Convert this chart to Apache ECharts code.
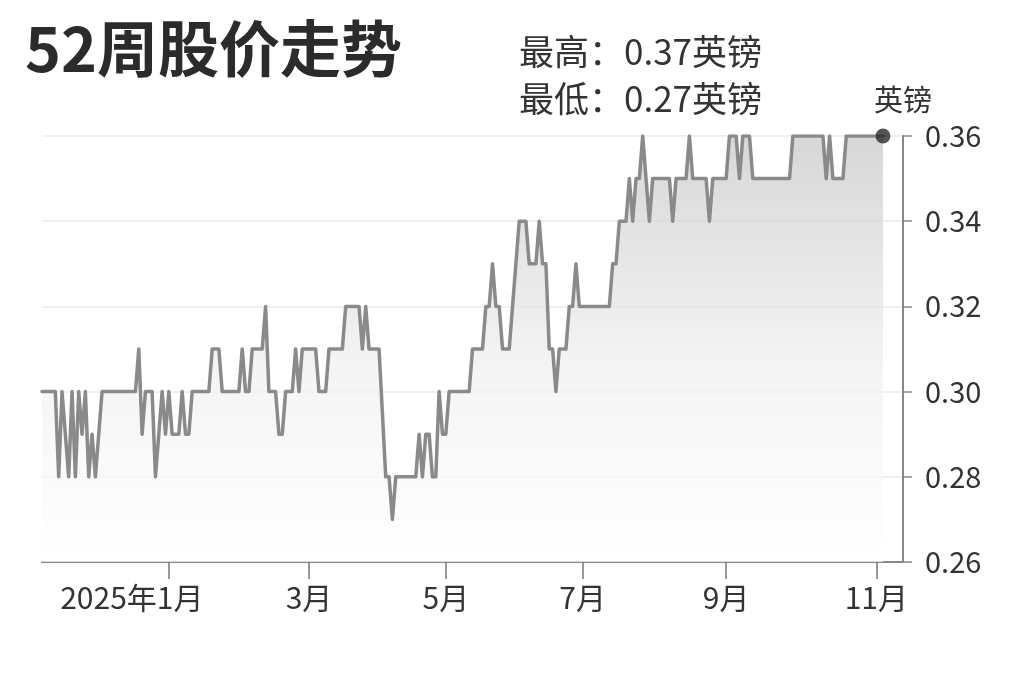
<!DOCTYPE html>
<html>
<head>
<meta charset="utf-8">
<title>52周股价走势</title>
<script src="https://cdn.jsdelivr.net/npm/echarts@6/dist/echarts.min.js"></script>
<style>
    html, body { margin: 0; padding: 0; background: #fff; }
    #chart { width: 1023px; height: 682px; }
</style>
</head>
<body>
<div id="chart"></div>
<script>
    // 每个交易日收盘价 (英镑), 2024-11-06 起
    var prices = [
        0.30, 0.30, 0.30, 0.30, 0.30, 0.28, 0.30, 0.29, 0.28, 0.30,
        0.28, 0.30, 0.29, 0.30, 0.28, 0.29, 0.28, 0.29, 0.30, 0.30,
        0.30, 0.30, 0.30, 0.30, 0.30, 0.30, 0.30, 0.30, 0.30, 0.31,
        0.29, 0.30, 0.30, 0.30, 0.28, 0.29, 0.30, 0.29, 0.30, 0.29,
        0.29, 0.29, 0.30, 0.29, 0.29, 0.30, 0.30, 0.30, 0.30, 0.30,
        0.30, 0.31, 0.31, 0.31, 0.30, 0.30, 0.30, 0.30, 0.30, 0.30,
        0.31, 0.30, 0.30, 0.31, 0.31, 0.31, 0.31, 0.32, 0.30, 0.30,
        0.30, 0.29, 0.29, 0.30, 0.30, 0.30, 0.31, 0.30, 0.31, 0.31,
        0.31, 0.31, 0.31, 0.30, 0.30, 0.30, 0.31, 0.31, 0.31, 0.31,
        0.31, 0.32, 0.32, 0.32, 0.32, 0.32, 0.31, 0.32, 0.31, 0.31,
        0.31, 0.31, 0.295, 0.28, 0.28, 0.27, 0.28, 0.28, 0.28, 0.28,
        0.28, 0.28, 0.28, 0.29, 0.28, 0.29, 0.29, 0.28, 0.28, 0.30,
        0.29, 0.29, 0.30, 0.30, 0.30, 0.30, 0.30, 0.30, 0.30, 0.31,
        0.31, 0.31, 0.31, 0.32, 0.32, 0.33, 0.32, 0.32, 0.31, 0.31,
        0.31, 0.32, 0.33, 0.34, 0.34, 0.34, 0.33, 0.33, 0.33, 0.34,
        0.33, 0.33, 0.31, 0.31, 0.30, 0.31, 0.31, 0.31, 0.32, 0.32,
        0.33, 0.32, 0.32, 0.32, 0.32, 0.32, 0.32, 0.32, 0.32, 0.32,
        0.32, 0.33, 0.33, 0.34, 0.34, 0.34, 0.35, 0.34, 0.35, 0.35,
        0.36, 0.35, 0.34, 0.35, 0.35, 0.35, 0.35, 0.35, 0.35, 0.34,
        0.35, 0.35, 0.35, 0.35, 0.36, 0.35, 0.35, 0.35, 0.35, 0.35,
        0.34, 0.35, 0.35, 0.35, 0.35, 0.35, 0.36, 0.36, 0.36, 0.35,
        0.36, 0.36, 0.36, 0.35, 0.35, 0.35, 0.35, 0.35, 0.35, 0.35,
        0.35, 0.35, 0.35, 0.35, 0.35, 0.36, 0.36, 0.36, 0.36, 0.36,
        0.36, 0.36, 0.36, 0.36, 0.36, 0.35, 0.36, 0.35, 0.35, 0.35,
        0.35, 0.36, 0.36, 0.36, 0.36, 0.36, 0.36, 0.36, 0.36, 0.36,
        0.36, 0.36, 0.36
    ];
    var startDate = '2024-11-06';
    // 英国交易所休市日
    var holidays = ['2024-12-25', '2024-12-26', '2025-01-01', '2025-04-18',
        '2025-04-21', '2025-05-05', '2025-05-26', '2025-08-25'];
    var tickMonths = ['2025-01', '2025-03', '2025-05', '2025-07', '2025-09', '2025-11'];
    var yTicks = [0.26, 0.28, 0.30, 0.32, 0.34, 0.36];
    var high52 = '0.37';
    var low52 = '0.27';
    var unitName = '英镑';
    var padDays = 6; // 右侧留白

    var font = "'Noto Sans CJK SC', 'Noto Sans', sans-serif";

    // 交易日
    var dates = [];
    var d = new Date(startDate + 'T00:00:00Z');
    while (dates.length < prices.length) {
        var s = d.toISOString().slice(0, 10);
        var wd = d.getUTCDay();
        if (wd !== 0 && wd !== 6 && holidays.indexOf(s) < 0) {
            dates.push(s);
        }
        d.setUTCDate(d.getUTCDate() + 1);
    }
    var categories = dates.slice();
    for (var p = 1; p <= padDays; p++) {
        categories.push('pad' + p);
    }

    // 每月第一个交易日
    var tickIndex = {};
    for (var i = 0; i < dates.length; i++) {
        var m = dates[i].slice(0, 7);
        if (tickMonths.indexOf(m) >= 0 && (i === 0 || dates[i - 1].slice(0, 7) !== m)) {
            tickIndex[i] = true;
        }
    }
    function isTick(index) {
        return tickIndex[index] === true;
    }

    var last = prices.length - 1;

    var myChart = echarts.init(document.getElementById('chart'));
    var option = {
        backgroundColor: '#fff',
        animation: false,
        textStyle: { fontFamily: font },
        title: [
            {
                text: '52周股价走势',
                left: 25,
                top: 18,
                padding: 0,
                textStyle: { fontSize: 61, fontWeight: 'bold', color: '#2b2b2b', fontFamily: font }
            },
            {
                text: '最高：' + high52 + unitName + '\n最低：' + low52 + unitName,
                left: 519,
                top: 28,
                padding: 0,
                textStyle: { fontSize: 35, lineHeight: 47, fontWeight: 'normal', color: '#333', fontFamily: font }
            }
        ],
        grid: {
            left: 42,
            right: 120,
            top: 136,
            bottom: 120
        },
        xAxis: {
            type: 'category',
            data: categories,
            boundaryGap: false,
            axisLine: { lineStyle: { color: '#888', width: 2 } },
            axisTick: {
                interval: isTick,
                length: 17,
                lineStyle: { color: '#777', width: 1.5 }
            },
            axisLabel: {
                interval: isTick,
                margin: 21,
                fontSize: 30,
                color: '#333',
                fontFamily: font,
                formatter: function (value) {
                    var y = value.slice(0, 4);
                    var mo = parseInt(value.slice(5, 7), 10);
                    if (mo === 1) {
                        return '{first|' + y + '年' + mo + '月}';
                    }
                    return mo + '月';
                },
                rich: {
                    first: { fontSize: 30, color: '#333', fontFamily: font, padding: [0, 74, 0, 0] }
                }
            },
            splitLine: { show: false }
        },
        yAxis: {
            type: 'value',
            position: 'right',
            min: yTicks[0],
            max: yTicks[yTicks.length - 1],
            interval: 0.02,
            name: unitName,
            nameLocation: 'end',
            nameGap: 22,
            nameTextStyle: { fontSize: 29, color: '#333', align: 'center', fontFamily: font },
            axisLine: { show: true, lineStyle: { color: '#888', width: 2 } },
            axisTick: { show: true, length: 9, lineStyle: { color: '#888', width: 1.5 } },
            axisLabel: {
                margin: 22,
                fontSize: 29,
                color: '#333',
                fontFamily: font,
                formatter: function (v) { return v.toFixed(2); }
            },
            splitLine: { show: true, lineStyle: { color: '#ebebeb', width: 1.5 } }
        },
        series: [
            {
                type: 'line',
                data: prices,
                symbol: 'none',
                lineStyle: { color: '#8a8a8a', width: 3.5, join: 'round', cap: 'round' },
                areaStyle: {
                    color: new echarts.graphic.LinearGradient(0, 0, 0, 1, [
                        { offset: 0, color: '#c6c6c6' },
                        { offset: 0.55, color: '#f0f0f0' },
                        { offset: 1, color: '#ffffff' }
                    ])
                },
                z: 2
            },
            {
                type: 'scatter',
                data: [[last, prices[last]]],
                symbol: 'circle',
                symbolSize: 15,
                itemStyle: { color: '#2b2b2b' },
                z: 3
            }
        ]
    };
    myChart.setOption(option);
</script>
</body>
</html>
